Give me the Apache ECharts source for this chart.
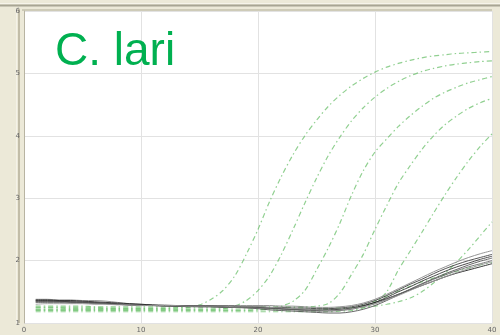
<!DOCTYPE html>
<html>
<head>
<meta charset="utf-8">
<script src="https://cdn.jsdelivr.net/npm/echarts@6/dist/echarts.min.js"></script>
<style>
  html, body { margin: 0; padding: 0; background: #ECE9D8; }
  #chart { width: 500px; height: 335px; }
</style>
</head>
<body>
<div id="chart"></div>
<script>
// Amplification run: fluorescence vs. cycle number
const titleText = 'C. lari';
const cycles = [1,2,3,4,5,6,7,8,9,10,11,12,13,14,15,16,17,18,19,20,21,22,23,24,25,26,27,28,29,30,31,32,33,34,35,36,37,38,39,40];
const xTicks = [0, 10, 20, 30, 40];
const yTicks = [1, 2, 3, 4, 5, 6];

// Positive samples (green, dash-dot)
const pos1 = [1.24,1.24,1.24,1.23,1.23,1.23,1.23,1.23,1.23,1.23,1.23,1.23,1.24,1.25,1.29,1.38,1.52,1.75,2.10,2.50,2.95,3.35,3.70,4.00,4.25,4.47,4.65,4.80,4.92,5.02,5.10,5.16,5.21,5.25,5.28,5.30,5.32,5.33,5.34,5.35];
const pos2 = [1.22,1.22,1.22,1.22,1.22,1.22,1.22,1.22,1.22,1.22,1.22,1.22,1.22,1.22,1.22,1.22,1.23,1.27,1.36,1.52,1.76,2.10,2.50,2.92,3.32,3.68,3.98,4.24,4.45,4.62,4.76,4.87,4.96,5.03,5.08,5.12,5.15,5.17,5.19,5.20];
const pos3 = [1.20,1.20,1.20,1.20,1.20,1.20,1.20,1.20,1.20,1.20,1.20,1.20,1.20,1.20,1.20,1.20,1.20,1.20,1.20,1.21,1.23,1.27,1.35,1.52,1.85,2.20,2.60,3.05,3.44,3.74,3.95,4.15,4.32,4.47,4.60,4.70,4.78,4.85,4.90,4.95];
const pos4 = [1.27,1.27,1.27,1.27,1.27,1.26,1.26,1.26,1.26,1.26,1.26,1.26,1.26,1.26,1.26,1.26,1.26,1.26,1.26,1.26,1.26,1.26,1.26,1.26,1.27,1.31,1.48,1.78,2.10,2.50,2.88,3.24,3.52,3.78,4.00,4.18,4.32,4.44,4.53,4.60];
const pos5 = [1.18,1.18,1.18,1.18,1.18,1.18,1.18,1.18,1.18,1.18,1.18,1.18,1.18,1.18,1.18,1.18,1.18,1.18,1.18,1.18,1.18,1.18,1.18,1.18,1.18,1.18,1.19,1.20,1.24,1.32,1.50,1.85,2.15,2.45,2.76,3.06,3.34,3.60,3.83,4.03];
const pos6 = [1.25,1.25,1.25,1.25,1.25,1.25,1.24,1.24,1.24,1.24,1.24,1.24,1.24,1.24,1.24,1.24,1.24,1.24,1.24,1.24,1.24,1.24,1.24,1.24,1.24,1.24,1.24,1.24,1.25,1.27,1.30,1.34,1.40,1.50,1.64,1.80,1.98,2.18,2.40,2.62];
const pos7 = [1.21,1.21,1.21,1.21,1.21,1.21,1.21,1.21,1.21,1.21,1.21,1.21,1.21,1.21,1.21,1.21,1.21,1.21,1.21,1.21,1.21,1.21,1.21,1.21,1.21,1.21,1.22,1.24,1.28,1.35,1.43,1.51,1.59,1.66,1.72,1.78,1.83,1.88,1.93,1.97];

// Negative samples (grey/black, solid)
const neg1 = [1.38,1.38,1.37,1.37,1.36,1.36,1.35,1.33,1.31,1.30,1.29,1.29,1.28,1.28,1.28,1.28,1.28,1.28,1.28,1.28,1.28,1.27,1.27,1.26,1.25,1.25,1.26,1.28,1.32,1.38,1.46,1.55,1.64,1.73,1.82,1.90,1.98,2.05,2.11,2.16];
const neg2 = [1.36,1.36,1.35,1.34,1.33,1.32,1.31,1.30,1.29,1.29,1.28,1.28,1.28,1.27,1.27,1.27,1.27,1.26,1.26,1.25,1.24,1.23,1.22,1.21,1.20,1.20,1.21,1.23,1.27,1.33,1.41,1.50,1.58,1.67,1.75,1.83,1.90,1.96,2.02,2.07];
const neg3 = [1.34,1.34,1.34,1.33,1.33,1.32,1.31,1.30,1.29,1.28,1.28,1.27,1.27,1.27,1.26,1.26,1.25,1.25,1.24,1.23,1.21,1.20,1.19,1.18,1.17,1.16,1.16,1.18,1.22,1.28,1.36,1.45,1.54,1.63,1.71,1.79,1.86,1.93,1.99,2.04];
const neg4 = [1.37,1.37,1.36,1.36,1.35,1.34,1.33,1.32,1.31,1.30,1.29,1.28,1.28,1.27,1.27,1.27,1.26,1.26,1.25,1.25,1.24,1.23,1.22,1.22,1.21,1.21,1.22,1.24,1.28,1.33,1.39,1.46,1.53,1.60,1.67,1.74,1.80,1.85,1.90,1.95];
const neg5 = [1.33,1.33,1.33,1.32,1.32,1.31,1.31,1.30,1.29,1.28,1.28,1.27,1.27,1.26,1.26,1.26,1.25,1.25,1.25,1.24,1.23,1.22,1.21,1.20,1.19,1.19,1.20,1.22,1.26,1.31,1.38,1.46,1.54,1.62,1.70,1.77,1.84,1.90,1.95,2.00];
const neg6 = [1.35,1.35,1.35,1.34,1.34,1.33,1.32,1.31,1.30,1.29,1.28,1.28,1.27,1.27,1.27,1.27,1.27,1.27,1.26,1.26,1.25,1.25,1.24,1.24,1.23,1.23,1.24,1.26,1.30,1.36,1.44,1.53,1.62,1.70,1.79,1.87,1.94,2.00,2.05,2.10];
const neg7 = [1.30,1.31,1.31,1.31,1.31,1.30,1.30,1.29,1.29,1.28,1.28,1.28,1.28,1.27,1.27,1.27,1.27,1.26,1.26,1.26,1.25,1.24,1.23,1.22,1.21,1.20,1.21,1.23,1.26,1.31,1.37,1.44,1.52,1.60,1.67,1.74,1.81,1.87,1.93,1.98];

const positives = [pos1, pos2, pos3, pos4, pos5, pos6, pos7];
const negatives = [neg1, neg2, neg3, neg4, neg5, neg6, neg7];
const negColors = ['#8a8a8a', '#3a3a3a', '#555555', '#222222', '#6a6a6a', '#444444', '#9a9a9a'];

const pairs = (vals) => cycles.map((c, i) => [c, vals[i]]);

const series = [];
positives.forEach((vals) => {
  series.push({
    type: 'line', data: pairs(vals), symbol: 'none', smooth: 0.3,
    silent: true, z: 2,
    lineStyle: { color: '#6cc06c', width: 1.2, opacity: 0.75, type: [5, 3, 1.5, 3] }
  });
});
negatives.forEach((vals, i) => {
  series.push({
    type: 'line', data: pairs(vals), symbol: 'none', smooth: 0.3,
    silent: true, z: 3,
    lineStyle: { color: negColors[i], width: 1, opacity: 0.9 }
  });
});

const chart = echarts.init(document.getElementById('chart'), null, { renderer: 'canvas' });
chart.setOption({
  animation: false,
  backgroundColor: '#ECE9D8',
  title: {
    text: titleText, left: 50, top: 24,
    textStyle: { color: '#00B050', fontSize: 46, fontWeight: 'normal', fontFamily: 'Liberation Sans, Arial, sans-serif' }
  },
  grid: {
    left: 24, right: 8, top: 11, bottom: 12,
    show: true, backgroundColor: '#ffffff', borderWidth: 0
  },
  xAxis: {
    type: 'value', min: xTicks[0], max: xTicks[xTicks.length - 1], interval: 10,
    axisLine: { show: false }, axisTick: { show: false },
    splitLine: { show: true, lineStyle: { color: '#e2e2e2', width: 1 } },
    axisLabel: { fontSize: 7, color: '#666', margin: 4, fontFamily: 'DejaVu Sans' }
  },
  yAxis: {
    type: 'value', min: yTicks[0], max: yTicks[yTicks.length - 1], interval: 1,
    axisLine: { show: true, lineStyle: { color: '#b8b4a2', width: 1 } },
    axisTick: { show: false },
    splitLine: { show: true, lineStyle: { color: '#e2e2e2', width: 1 } },
    axisLabel: { fontSize: 7, color: '#666', margin: 4, fontFamily: 'DejaVu Sans' }
  },
  graphic: [
    { type: 'line', shape: { x1: 0, y1: 5.5, x2: 500, y2: 5.5 }, style: { stroke: '#a8a594', lineWidth: 2 }, silent: true },
    { type: 'line', shape: { x1: 0, y1: 3.5, x2: 500, y2: 3.5 }, style: { stroke: '#f6f4ea', lineWidth: 1 }, silent: true },
    { type: 'line', shape: { x1: 22, y1: 10, x2: 492, y2: 10 }, style: { stroke: '#c4c0ae', lineWidth: 1.5 }, silent: true },
    { type: 'line', shape: { x1: 19, y1: 9, x2: 19, y2: 323 }, style: { stroke: '#c2bda8', lineWidth: 2 }, silent: true },
    { type: 'line', shape: { x1: 16.5, y1: 9, x2: 16.5, y2: 323 }, style: { stroke: '#f4f2e8', lineWidth: 1 }, silent: true }
  ],
  series: series
});
</script>
</body>
</html>
